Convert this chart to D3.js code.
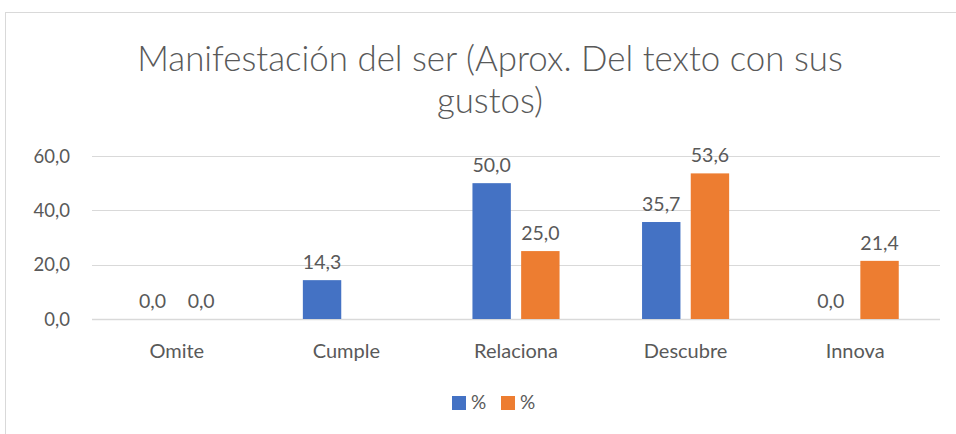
<!DOCTYPE html>
<html>
<head>
<meta charset="utf-8">
<script src="https://d3js.org/d3.v7.min.js"></script>
<style>
  body { margin: 0; background: #fff; }
  text { font-family: Lato, "Open Sans", sans-serif; fill: #595959; }
</style>
</head>
<body>
<svg id="svgMain" width="956" height="434"></svg>
<script>
  // data
  const categories = ["Omite", "Cumple", "Relaciona", "Descubre", "Innova"];
  const seriesNames = ["%", "%"];
  const serie1 = [0.0, 14.3, 50.0, 35.7, 0.0];
  const serie2 = [0.0, null, 25.0, 53.6, 21.4];
  const yTicks = [0, 20, 40, 60];
  const colors = ["#4472C4", "#ED7D31"];
  const titleLines = ["Manifestación del ser (Aprox. Del texto con sus", "gustos)"];

  const svg = d3.select("#svgMain");

  // chart frame
  svg.append("rect")
    .attr("x", 5.5).attr("y", 12.5)
    .attr("width", 1000).attr("height", 500)
    .attr("fill", "#fff").attr("stroke", "#d9d9d9");

  // title
  const title = svg.append("g");
  title.selectAll("text")
    .data(titleLines)
    .join("text")
    .attr("x", 490)
    .attr("y", (d, i) => 71 + i * 42)
    .attr("text-anchor", "middle")
    .attr("font-size", 32)
    .attr("font-weight", 300)
    .text(d => d);

  // fit the first line to the width seen in the reference
  const first = title.select("text").node();
  const w = first.getComputedTextLength();
  const fs = 32 * 706 / w;
  title.selectAll("text").attr("font-size", Math.min(fs, 36));

  const x0 = d3.scaleBand().domain(categories).range([92, 940]);
  const x1 = d3.scaleBand().domain([0, 1]).range([0, 2 * 38.4 + 10.3]).paddingInner(10.3 / 48.7);
  const y = d3.scaleLinear().domain([0, 60]).range([319, 156]);

  // gridlines
  svg.append("g")
    .selectAll("line")
    .data(yTicks)
    .join("line")
    .attr("x1", 92).attr("x2", 940)
    .attr("y1", d => Math.round(y(d)) + 0.5)
    .attr("y2", d => Math.round(y(d)) + 0.5)
    .attr("stroke", "#d9d9d9")
    .attr("stroke-width", d => d === 0 ? 1.5 : 1);

  // y tick labels
  svg.append("g")
    .selectAll("text")
    .data(yTicks)
    .join("text")
    .attr("x", 70)
    .attr("y", d => y(d) + 6.5)
    .attr("text-anchor", "end")
    .attr("font-size", 18.5)
    .text(d => d3.format(".1f")(d).replace(".", ","));

  // category labels
  svg.append("g")
    .selectAll("text")
    .data(categories)
    .join("text")
    .attr("x", d => x0(d) + x0.bandwidth() / 2)
    .attr("y", 358)
    .attr("text-anchor", "middle")
    .attr("font-size", 20)
    .text(d => d);

  // bars
  const rows = [];
  categories.forEach((c, i) => {
    [serie1[i], serie2[i]].forEach((v, s) => {
      if (v !== null) rows.push({ cat: c, s: s, v: v });
    });
  });

  const groupW = x1.range()[1];
  const bx = d => x0(d.cat) + x0.bandwidth() / 2 - groupW / 2 + x1(d.s);

  svg.append("g")
    .selectAll("rect")
    .data(rows)
    .join("rect")
    .attr("x", bx)
    .attr("y", d => y(d.v))
    .attr("width", x1.bandwidth())
    .attr("height", d => y(0) - y(d.v))
    .attr("fill", d => colors[d.s]);

  // value labels
  svg.append("g")
    .selectAll("text")
    .data(rows)
    .join("text")
    .attr("x", d => bx(d) + x1.bandwidth() / 2)
    .attr("y", d => y(d.v) - 11)
    .attr("text-anchor", "middle")
    .attr("font-size", 19.5)
    .text(d => d3.format(".1f")(d.v).replace(".", ","));

  // legend
  const legend = svg.append("g")
    .selectAll("g")
    .data(seriesNames)
    .join("g")
    .attr("transform", (d, i) => "translate(" + (452 + i * 49) + ",396)");

  legend.append("rect")
    .attr("width", 14).attr("height", 14)
    .attr("fill", (d, i) => colors[i]);

  legend.append("text")
    .attr("x", 19).attr("y", 13)
    .attr("font-size", 19)
    .text(d => d);
</script>
</body>
</html>
